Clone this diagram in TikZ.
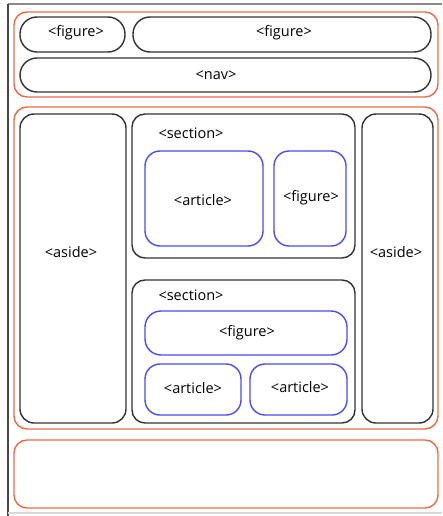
\documentclass[tikz,border=0pt]{standalone}
\usepackage{fontspec}
\setmainfont{Open Sans}
\usetikzlibrary{fit}
\definecolor{frameor}{RGB}{238,105,70}
\definecolor{boxblue}{RGB}{75,75,240}
\definecolor{boxgray}{RGB}{50,50,50}
\definecolor{edgedark}{RGB}{70,70,70}
\definecolor{edgelight}{RGB}{215,215,215}
\definecolor{edgemid}{RGB}{140,140,140}
\tikzset{
  region/.style={draw=frameor, line width=1.4pt, rounded corners=13pt, inner sep=0pt},
  graybox/.style={draw=boxgray, line width=1.4pt, inner sep=0pt},
  bluebox/.style={draw=boxblue, line width=1.4pt, rounded corners=15pt, inner sep=0pt},
  tag/.style={font=\fontsize{14.5}{16}\selectfont, inner sep=0pt, text=black},
}
\begin{document}
\begin{tikzpicture}[x=1pt, y=-1pt]
\useasboundingbox (0,0) rectangle (442,516);
% outer page frame
\coordinate (tl) at (8,4);
\coordinate (tr) at (442,4);
\coordinate (bl) at (8,516);
\coordinate (bl2) at (8,513);
\coordinate (br2) at (442,513);
\draw[edgemid, line width=2pt] (tl) -- (tr);
\draw[edgedark, line width=2pt] (tl) -- (bl);
\draw[edgelight, line width=1.5pt] (bl2) -- (br2);

% header
\node[region, fit={(14,12) (438,97)}] (header) {};
\node[graybox, rounded corners=17pt, fit={(20,17) (125,52)}] (fig1) {};
\node[graybox, rounded corners=17pt, fit={(133,17) (431,52)}] (fig2) {};
\node[graybox, rounded corners=17pt, fit={(20,58) (431,92)}] (nav) {};
\node[tag] at (76,33) {<figure>};
\node[tag] at (284,33) {<figure>};
\node[tag] at (216,75) {<nav>};

% main
\node[region, fit={(14,107) (438,429)}] (main) {};
\node[graybox, rounded corners=14pt, fit={(20,114) (126,423)}] (asideL) {};
\node[tag] at (71,252) {<aside>};
\node[graybox, rounded corners=14pt, fit={(362,114) (433,423)}] (asideR) {};
\node[tag] at (396,252) {<aside>};

\node[graybox, rounded corners=13pt, fit={(132,114) (355,258)}] (sec1) {};
\node[tag] at (191,133) {<section>};
\node[bluebox, fit={(145,151) (263,246)}] (art1) {};
\node[tag] at (203,200) {<article>};
\node[bluebox, fit={(274,151) (346,246)}] (fig3) {};
\node[tag] at (311,198) {<figure>};

\node[graybox, rounded corners=13pt, fit={(132,280) (355,423)}] (sec2) {};
\node[tag] at (191,295) {<section>};
\node[bluebox, rounded corners=16pt, fit={(145,311) (347,355)}] (fig4) {};
\node[tag] at (247,333) {<figure>};
\node[bluebox, fit={(145,364) (241,415)}] (art2) {};
\node[tag] at (193,388) {<article>};
\node[bluebox, fit={(250,364) (347,415)}] (art3) {};
\node[tag] at (300,387) {<article>};

% footer
\node[region, fit={(14,440) (438,508)}] (footer) {};
\end{tikzpicture}
\end{document}
